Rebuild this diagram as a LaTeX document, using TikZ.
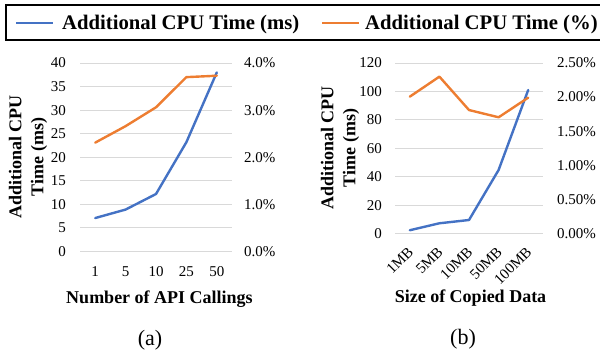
\documentclass[tikz,border=0pt]{standalone}
\usepackage{fontspec}
\setmainfont{Liberation Serif}

\definecolor{msblue}{HTML}{4472C4}
\definecolor{pctorange}{HTML}{ED7D31}
\definecolor{gridgray}{HTML}{D9D9D9}

\begin{document}
\begin{tikzpicture}[
        x=1pt, y=-1pt,
        gridline/.style={gridgray, line width=1pt},
        series/.style={line width=2.4pt, line join=round, line cap=round},
        ticklabel/.style={font=\fontsize{15}{18}\selectfont, inner sep=0pt},
        axistitle/.style={font=\fontsize{18}{22}\selectfont\bfseries, inner sep=0pt, align=center},
        legendtext/.style={font=\fontsize{20.7}{24}\selectfont\bfseries, inner sep=0pt, anchor=base west},
        subcap/.style={font=\fontsize{22}{26}\selectfont, inner sep=0pt}
    ]
    \useasboundingbox (0,0) rectangle (600,356);

    % Legend
    \draw[line width=1.2pt] (6,5) rectangle (606,40);
    \coordinate (msL) at (16,23);
    \coordinate (msR) at (53,23);
    \coordinate (pctL) at (322,23);
    \coordinate (pctR) at (359,23);
    \draw[series, msblue, line cap=butt] (msL) -- (msR);
    \draw[series, pctorange, line cap=butt] (pctL) -- (pctR);
    \node[legendtext] (msleg) at (62,29.5) {Additional CPU Time (ms)};
    \node[legendtext] (pctleg) at (365,29.5) {Additional CPU Time (\%)};

    % (a) API callings
    \begin{scope}[shift={(80,251.5)}, x=30.4pt, y=4.7125pt]
        \foreach \v in {0,5,...,40} {
            \draw[gridline] (0,\v) -- (5,\v);
            \node[ticklabel, anchor=east, xshift=-14pt] (ya-\v) at (0,\v) {\v};
        }
        \foreach \v/\p in {0/0.0,10/1.0,20/2.0,30/3.0,40/4.0}
            \node[ticklabel, anchor=west, xshift=12pt] (yra-\v) at (5,\v) {\p\%};
        \foreach \c [count=\i] in {1,5,10,25,50}
            \node[ticklabel, yshift=-20.5pt] (xa-\i) at (\i-0.5,0) {\c};

        \draw[series, msblue] plot coordinates {(0.5,7.1) (1.5,8.9) (2.5,12.2) (3.5,23.2) (4.5,38)};
        % percent axis: 1.0% = 10
        \draw[series, pctorange] plot coordinates {(0.5,23.1) (1.5,26.6) (2.5,30.6) (3.5,37.0) (4.5,37.3)};
    \end{scope}

    \node[axistitle, rotate=90] (ytitleA) at (28,157) {Additional CPU\\Time (ms)};
    \node[axistitle] (xtitleA) at (159.5,299) {Number of API Callings};
    \node[subcap] (capA) at (150,340) {(a)};

    % (b) copied data size
    \begin{scope}[shift={(395,233.5)}, x=29.6pt, y=1.4208pt]
        \foreach \v in {0,20,...,120} {
            \draw[gridline] (0,\v) -- (5,\v);
            \node[ticklabel, anchor=east, xshift=-13pt] (yb-\v) at (0,\v) {\v};
        }
        \foreach \v/\p in {0/0.00,24/0.50,48/1.00,72/1.50,96/2.00,120/2.50}
            \node[ticklabel, anchor=west, xshift=14pt] (yrb-\v) at (5,\v) {\p\%};
        % shifts first, so they act before the rotation
        \foreach \c [count=\i] in {1MB,5MB,10MB,50MB,100MB}
            \node[ticklabel, xshift=1pt, yshift=-16pt, rotate=45, anchor=east] (xb-\i) at (\i-0.5,0) {\c};

        \draw[series, msblue] plot coordinates {(0.5,2.3) (1.5,7.2) (2.5,9.5) (3.5,44.7) (4.5,101)};
        % percent axis: 2.50% = 120
        \draw[series, pctorange] plot coordinates {(0.5,96.3) (1.5,110.4) (2.5,86.9) (3.5,81.8) (4.5,95.6)};
    \end{scope}

    \node[axistitle, rotate=90] (ytitleB) at (340,148) {Additional CPU\\Time (ms)};
    \node[axistitle] (xtitleB) at (470.5,298) {Size of Copied Data};
    \node[subcap] (capB) at (463,339) {(b)};

\end{tikzpicture}
\end{document}
